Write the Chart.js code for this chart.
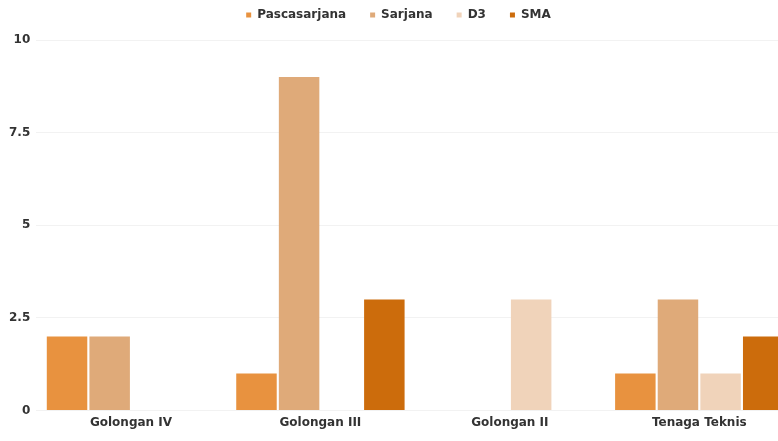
<!DOCTYPE html>
<html><head><meta charset="utf-8">
<script src="https://cdn.jsdelivr.net/npm/chart.js@4"></script>
<style>
html,body{margin:0;padding:0;background:#fff;overflow:hidden;}
#wrap{position:relative;width:800px;height:441px;}
</style></head>
<body>
<div id="wrap"><canvas id="c"></canvas></div>
<script>
const categories = ["Golongan IV", "Golongan III", "Golongan II", "Tenaga Teknis"];
const seriesNames = ["Pascasarjana", "Sarjana", "D3", "SMA"];
const pascasarjana = [2, 1, 0, 1];
const sarjana = [2, 9, 0, 3];
const d3 = [0, 0, 3, 1];
const sma = [0, 3, 0, 2];
const yTicks = [0, 2.5, 5, 7.5, 10];
const colors = ["#E8923F", "#DFAA79", "#F0D3BA", "#CC6C0C"];

const values = [pascasarjana, sarjana, d3, sma];
const fnt = { family: 'DejaVu Sans', weight: 'bold', size: 12 };
const legendHeightFix = {
  id: 'legendHeightFix',
  beforeInit(chart) {
    const orig = chart.legend.fit;
    chart.legend.fit = function () { orig.call(this); this.height = 55; };
  }
};
new Chart(document.getElementById('c'), {
  type: 'bar',
  data: {
    labels: categories,
    datasets: seriesNames.map((n, i) => ({
      label: n, data: values[i], backgroundColor: colors[i],
      barPercentage: 0.95, categoryPercentage: 0.9
    }))
  },
  plugins: [legendHeightFix],
  options: {
    responsive: true, maintainAspectRatio: false, animation: false,
    layout: { padding: { left: 3, right: 6, top: -15, bottom: 6 } },
    plugins: {
      tooltip: { enabled: false },
      legend: {
        position: 'top',
        labels: {
          usePointStyle: true, pointStyle: 'rect', boxWidth: 5, boxHeight: 5,
          padding: 24, color: '#333', font: fnt
        }
      }
    },
    scales: {
      x: {
        grid: { display: false, drawTicks: false }, border: { display: false },
        ticks: { color: '#333', font: fnt, padding: 5 }
      },
      y: {
        min: 0, max: 10,
        afterBuildTicks: s => { s.ticks = yTicks.map(v => ({ value: v })); },
        grid: { color: '#f2f2f2', drawTicks: false }, border: { display: false },
        ticks: { color: '#333', font: fnt, padding: 6 }
      }
    }
  }
});
</script>
</body></html>
